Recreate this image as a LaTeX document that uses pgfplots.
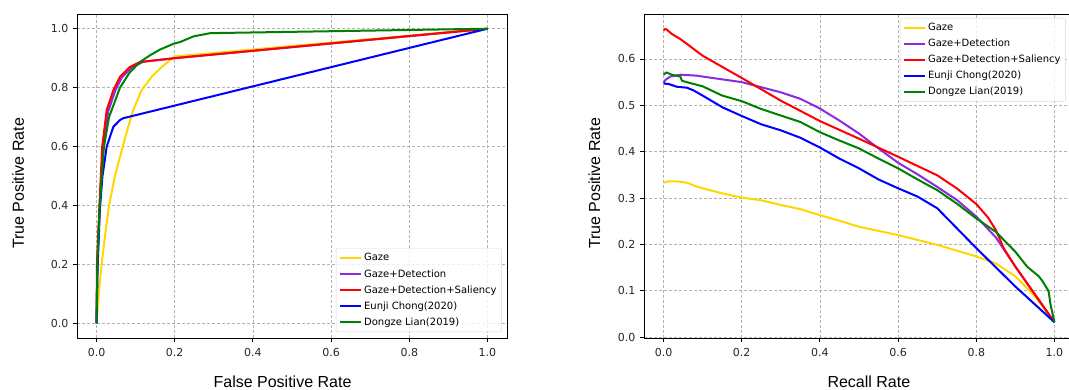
\documentclass[border=0pt]{standalone}
\usepackage{fontspec}
\setmainfont{DejaVu Sans}
\newfontfamily\lib{Liberation Sans}
\usepackage{pgfplots}
\pgfplotsset{compat=1.18}
\definecolor{cgold}{RGB}{255,215,0}
\definecolor{cviolet}{RGB}{138,43,226}
\definecolor{cred}{RGB}{255,0,0}
\definecolor{cblue}{RGB}{0,0,255}
\definecolor{cgreen}{RGB}{0,128,0}
\pgfplotsset{
  mpl/.style={
    scale only axis, width=430pt, height=324pt,
    /pgf/number format/assume math mode=true,
    tick label style={font=\fontsize{11}{13}\selectfont, text=black!85},
    xticklabel style={yshift=-3pt},
    yticklabel style={xshift=-1pt},
    label style={font=\lib\fontsize{16}{18}\selectfont},
    tick align=outside, tick pos=left, major tick length=4pt,
    every tick/.style={black, line width=0.9pt},
    axis line style={black, line width=0.9pt},
    grid=major,
    grid style={dash pattern=on 3pt off 2pt, black!30, line width=0.8pt},
    xmin=-0.05, xmax=1.05,
    xtick={0,0.2,...,1.0},
    xticklabel style={/pgf/number format/.cd, fixed, fixed zerofill, precision=1},
    yticklabel style={/pgf/number format/.cd, fixed, fixed zerofill, precision=1},
    legend cell align=left,
    legend image code/.code={\draw[##1, line width=2pt] (0pt,0pt) -- (21pt,0pt);},
    legend style={font=\fontsize{10}{12}\selectfont, draw=black!15, rounded corners=2pt,
      fill=white, fill opacity=0.8, text opacity=1, row sep=3pt, inner xsep=3pt, inner ysep=3pt},
  },
  pl/.style={line width=2pt, line join=round, #1},
}
\begin{document}
\begin{tikzpicture}[x=1pt,y=1pt]
\path[use as bounding box] (0,0) rectangle (1069,390);
\begin{axis}[mpl, at={(77pt,52pt)}, anchor=south west,
  ymin=-0.05, ymax=1.05, ytick={0,0.2,...,1.0},
  xlabel={False Positive Rate}, ylabel={True Positive Rate},
  xlabel style={at={(axis description cs:0.478,-0.1543)}, anchor=base},
  ylabel style={at={(axis description cs:-0.1233,0.477)}, anchor=base},
  legend style={at={(axis description cs:0.988,0.0185)}, anchor=south east},
]
\addplot[pl=cgold] coordinates {(0,0) (0.006,0.104) (0.013,0.2) (0.022,0.3) (0.032,0.4) (0.047,0.5) (0.067,0.6) (0.081,0.667) (0.094,0.724) (0.115,0.791) (0.141,0.837) (0.167,0.870) (0.192,0.898) (0.2,0.906) (1,1)};
\addlegendentry{Gaze}
\addplot[pl=cviolet] coordinates {(0,0) (0.002,0.2) (0.008,0.4) (0.017,0.6) (0.03,0.72) (0.048,0.79) (0.065,0.835) (0.09,0.868) (0.12,0.888) (0.2,0.9) (1,1)};
\addlegendentry{Gaze+Detection}
\addplot[pl=cred] coordinates {(0,0) (0.001,0.2) (0.007,0.39) (0.0145,0.6) (0.026,0.724) (0.043,0.791) (0.06,0.837) (0.085,0.870) (0.111,0.887) (0.2,0.9) (1,1)};
\addlegendentry{Gaze+Detection+Saliency}
\addplot[pl=cblue] coordinates {(0,0) (0.003,0.2) (0.0085,0.386) (0.015,0.498) (0.026,0.6) (0.043,0.667) (0.06,0.69) (0.068,0.696) (1,1)};
\addlegendentry{Eunji Chong(2020)}
\addplot[pl=cgreen] coordinates {(0,0) (0.002,0.2) (0.008,0.397) (0.019,0.6) (0.032,0.7) (0.06,0.8) (0.084,0.85) (0.111,0.887) (0.137,0.91) (0.162,0.929) (0.197,0.949) (0.214,0.955) (0.248,0.974) (0.291,0.985) (1,1)};
\addlegendentry{Dongze Lian(2019)}
\end{axis}
\begin{axis}[mpl, at={(644pt,52pt)}, anchor=south west,
  ymin=-0.002, ymax=0.697, ytick={0,0.1,...,0.6},
  xlabel={Recall Rate}, ylabel={True Positive Rate},
  xlabel style={at={(axis description cs:0.523,-0.1543)}, anchor=base},
  ylabel style={at={(axis description cs:-0.1023,0.477)}, anchor=base},
  legend style={at={(axis description cs:0.595,0.988)}, anchor=north west},
]
\addplot[pl=cgold] coordinates {(0,0.333) (0.013,0.336) (0.034,0.336) (0.06,0.333) (0.081,0.326) (0.1,0.321) (0.15,0.31) (0.2,0.301) (0.25,0.295) (0.3,0.285) (0.35,0.276) (0.4,0.263) (0.45,0.251) (0.5,0.238) (0.6,0.22) (0.7,0.199) (0.8,0.174) (0.85,0.159) (0.9,0.131) (0.95,0.088) (1,0.032)};
\addlegendentry{Gaze}
\addplot[pl=cviolet] coordinates {(0,0.548) (0.005,0.555) (0.017,0.562) (0.043,0.566) (0.085,0.564) (0.1,0.562) (0.2,0.55) (0.3,0.528) (0.35,0.514) (0.4,0.493) (0.45,0.467) (0.5,0.439) (0.55,0.407) (0.6,0.376) (0.65,0.351) (0.7,0.324) (0.75,0.296) (0.8,0.26) (0.85,0.215) (0.88,0.177) (0.9,0.152) (1,0.032)};
\addlegendentry{Gaze+Detection}
\addplot[pl=cred] coordinates {(0,0.662) (0.005,0.665) (0.01,0.662) (0.021,0.654) (0.043,0.643) (0.1,0.607) (0.2,0.559) (0.3,0.51) (0.4,0.466) (0.5,0.428) (0.6,0.389) (0.7,0.349) (0.75,0.321) (0.8,0.287) (0.83,0.258) (0.85,0.231) (0.87,0.192) (0.9,0.152) (1,0.032)};
\addlegendentry{Gaze+Detection+Saliency}
\addplot[pl=cblue] coordinates {(0,0.547) (0.013,0.546) (0.034,0.54) (0.06,0.538) (0.077,0.532) (0.1,0.521) (0.15,0.496) (0.2,0.477) (0.25,0.459) (0.3,0.446) (0.35,0.43) (0.4,0.409) (0.45,0.385) (0.5,0.364) (0.55,0.34) (0.6,0.321) (0.65,0.303) (0.7,0.278) (0.75,0.235) (0.8,0.192) (0.9,0.109) (1,0.032)};
\addlegendentry{Eunji Chong(2020)}
\addplot[pl=cgreen] coordinates {(0,0.566) (0.007,0.571) (0.021,0.566) (0.043,0.562) (0.047,0.553) (0.068,0.548) (0.1,0.541) (0.15,0.521) (0.2,0.509) (0.25,0.492) (0.3,0.478) (0.35,0.464) (0.4,0.442) (0.45,0.424) (0.5,0.407) (0.55,0.385) (0.6,0.364) (0.65,0.34) (0.7,0.317) (0.75,0.288) (0.8,0.256) (0.85,0.227) (0.9,0.184) (0.93,0.152) (0.96,0.131) (0.97,0.12) (0.985,0.099) (0.99,0.07) (1,0.032)};
\addlegendentry{Dongze Lian(2019)}
\end{axis}
\end{tikzpicture}
\end{document}
